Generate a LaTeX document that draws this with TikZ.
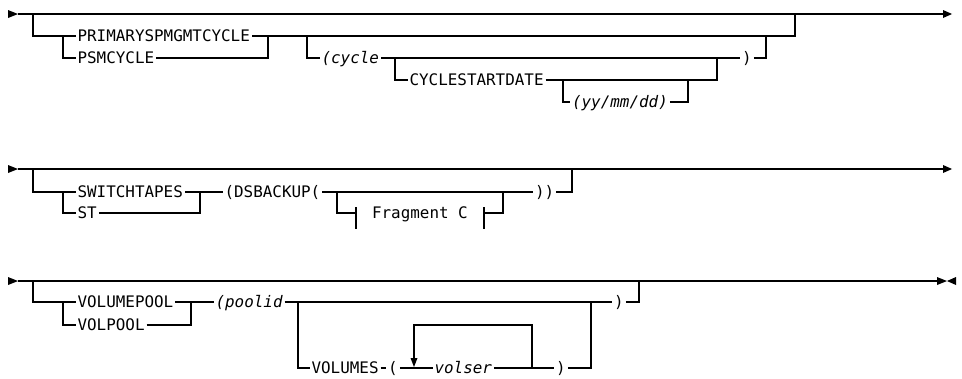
\documentclass[tikz,border=0pt]{standalone}
\usepackage{fontspec}
\newfontfamily\railfont{DejaVu Sans Mono}
\usetikzlibrary{positioning}

\begin{document}
\begin{tikzpicture}[x=1pt, y=-1pt, line width=1.2pt]
\tikzstyle{kw}=[anchor=west, inner xsep=1.5pt, inner ysep=0pt,
  text height=10.5pt, text depth=0pt,
  font=\railfont\fontsize{15.9}{18}\selectfont]
\tikzstyle{var}=[kw, font=\railfont\itshape\fontsize{15.9}{18}\selectfont]
\tikzstyle{frag}=[kw, inner xsep=15.5pt]
\useasboundingbox (0,0) rectangle (962,378);

% row 1
\coordinate (r1s) at (18,14); \coordinate (r1e) at (943,14);
\fill (8,10) -- (r1s) -- (8,18) -- cycle;
\draw (r1s) -- (r1e);
\fill (943,10) -- (952,14) -- (943,18) -- cycle;
\node[kw] (prim) at (75.5,36) {PRIMARYSPMGMTCYCLE};
\node[kw] (psm) at (75.5,58) {PSMCYCLE};
\node[var] (cyc) at (319.5,58) {(cycle};
\node[kw] (rpa) at (740,58) {)};
\node[kw] (csd) at (407.5,80) {CYCLESTARTDATE};
\node[var] (ymd) at (570,102) {(yy/mm/dd)};
\coordinate (j1a) at (33,14); \coordinate (j1b) at (63,36);
\coordinate (j1c) at (268,36); \coordinate (j1d) at (795,14);
\coordinate (j1e) at (307,36); \coordinate (j1f) at (766,36);
\coordinate (j1g) at (395,58); \coordinate (j1h) at (717,58);
\coordinate (j1i) at (563,80); \coordinate (j1j) at (688,80);
\draw (j1a) |- (prim.west);
\draw (j1b) |- (psm.west);
\draw (prim.east) -| (j1d);
\draw (psm.east) -| (j1c);
\draw (j1e) |- (cyc.west);
\draw (cyc.east) -- (rpa.west);
\draw (rpa.east) -| (j1f);
\draw (j1g) |- (csd.west);
\draw (csd.east) -| (j1h);
\draw (j1i) |- (ymd.west);
\draw (ymd.east) -| (j1j);

% row 2
\coordinate (r2s) at (18,169); \coordinate (r2e) at (943,169);
\fill (8,165) -- (r2s) -- (8,173) -- cycle;
\draw (r2s) -- (r2e);
\fill (943,165) -- (952,169) -- (943,173) -- cycle;
\node[kw] (swt) at (75.5,192) {SWITCHTAPES};
\node[kw] (st) at (75.5,213) {ST};
\node[kw] (dsb) at (222.5,192) {(DSBACKUP(};
\node[kw] (rr) at (533,192) {))};
\node[frag] (fragc) at (356,213) {Fragment C};
\coordinate (j2a) at (33,169); \coordinate (j2b) at (63,192);
\coordinate (j2c) at (200,192); \coordinate (j2d) at (572,169);
\coordinate (j2e) at (337,192); \coordinate (j2f) at (503,192);
\draw (j2a) |- (swt.west);
\draw (j2b) |- (st.west);
\draw (swt.east) -- (j2c) -- (dsb.west);
\draw (st.east) -| (j2c);
\draw (dsb.east) -- (rr.west);
\draw (rr.east) -| (j2d);
\draw (j2e) |- (fragc.west);
\draw (fragc.east) -| (j2f);
\draw ([yshift=6pt]fragc.west) -- ([yshift=-16pt]fragc.west);
\draw ([yshift=6pt]fragc.east) -- ([yshift=-16pt]fragc.east);

% row 3
\coordinate (r3s) at (18,281); \coordinate (r3e) at (937,281);
\fill (8,277) -- (r3s) -- (8,285) -- cycle;
\draw (r3s) -- (r3e);
\fill (937,277) -- (947,281) -- (937,285) -- cycle;
\fill (956,277) -- (947,281) -- (956,285) -- cycle;
\node[kw] (vp) at (75.5,302) {VOLUMEPOOL};
\node[kw] (vpl) at (75.5,325) {VOLPOOL};
\node[var] (pid) at (213.5,302) {(poolid};
\node[kw] (rpc) at (612,302) {)};
\node[kw] (vols) at (309.5,368) {VOLUMES};
\node[kw] (lpv) at (386,368) {(};
\node[var] (volser) at (432.5,368) {volser};
\node[kw] (rpv) at (554,368) {)};
\coordinate (j3a) at (33,281); \coordinate (j3b) at (63,302);
\coordinate (j3c) at (191,302); \coordinate (j3d) at (639,281);
\coordinate (j3e) at (298,302); \coordinate (j3f) at (591,302);
\coordinate (loopr) at (532,368); \coordinate (loopl) at (414,358);
\draw (j3a) |- (vp.west);
\draw (j3b) |- (vpl.west);
\draw (vp.east) -- (j3c) -- (pid.west);
\draw (vpl.east) -| (j3c);
\draw (pid.east) -- (rpc.west);
\draw (rpc.east) -| (j3d);
\draw (j3e) |- (vols.west);
\draw (vols.east) -- (lpv.west);
\draw (lpv.east) -- (volser.west);
\draw (volser.east) -- (rpv.west);
\draw (rpv.east) -| (j3f);
\draw (loopr) -- (532,325) -| (loopl);
\fill (410.5,358) -- (417.5,358) -- (414,367) -- cycle;
\end{tikzpicture}
\end{document}
